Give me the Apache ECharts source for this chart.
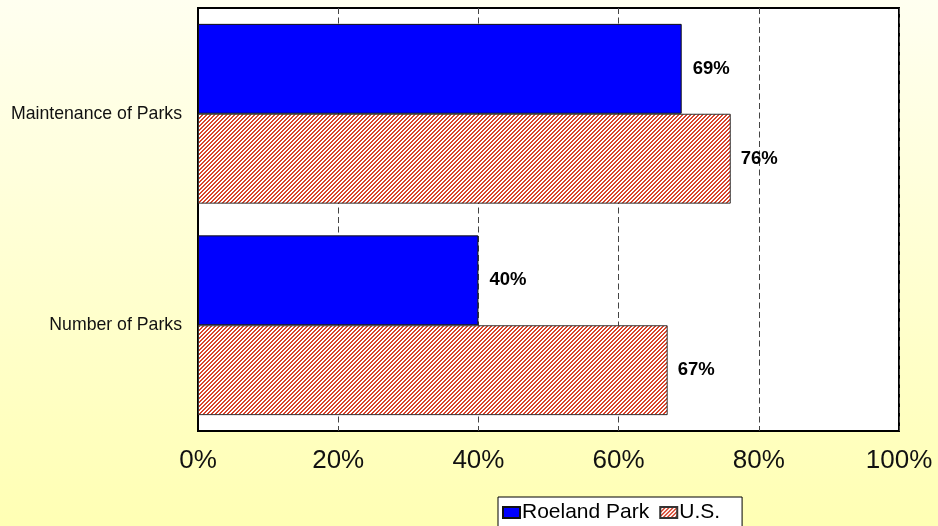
<!DOCTYPE html>
<html>
<head>
<meta charset="utf-8">
<script src="https://cdn.jsdelivr.net/npm/echarts@6/dist/echarts.min.js"></script>
<style>
html,body{margin:0;padding:0;}
#c{width:938px;height:526px;}
</style>
</head>
<body>
<div id="c"></div>
<script>
const categories = ['Maintenance of Parks', 'Number of Parks'];
const roelandPark = [69, 40];
const us = [76, 67];
const seriesNames = ['Roeland Park', 'U.S.'];
const xTicks = [0, 20, 40, 60, 80, 100];

function hatch() {
  const n = 4;
  const cv = document.createElement('canvas');
  cv.width = n; cv.height = n;
  const ctx = cv.getContext('2d');
  ctx.fillStyle = '#ffffff';
  ctx.fillRect(0, 0, n, n);
  ctx.fillStyle = '#d8442c';
  for (let x = 0; x < n; x++) {
    for (let y = 0; y < n; y++) {
      const k = (x + y) % 4;
      if (k === 0 || k === 1) ctx.fillRect(x, y, 1, 1);
    }
  }
  return cv;
}

const chart = echarts.init(document.getElementById('c'), null, {renderer: 'canvas'});
const pattern = {image: hatch(), repeat: 'repeat'};
const FONT = 'Liberation Sans, Arial, sans-serif';

chart.setOption({
  animation: false,
  backgroundColor: {
    type: 'linear', x: 0, y: 0, x2: 0, y2: 1,
    colorStops: [{offset: 0, color: '#fffff0'}, {offset: 1, color: '#ffffb4'}]
  },
  grid: {
    left: 198, right: 39, top: 8, bottom: 95,
    show: true, backgroundColor: '#ffffff', borderColor: '#000', borderWidth: 2
  },
  legend: {
    left: 498, top: 497,
    data: seriesNames,
    backgroundColor: '#ffffff',
    borderColor: '#000', borderWidth: 1, borderRadius: 0,
    padding: [5, 22, 8, 4],
    itemGap: 10, itemWidth: 17, itemHeight: 11,
    icon: 'rect',
    textStyle: {fontFamily: FONT, fontSize: 21, color: '#000', padding: [0, 0, 0, -3]}
  },
  xAxis: {
    type: 'value', min: xTicks[0], max: xTicks[xTicks.length - 1], interval: 20,
    axisLine: {show: false},
    axisTick: {show: false},
    axisLabel: {
      formatter: '{value}%', margin: 17,
      fontFamily: FONT, fontSize: 26, color: '#111'
    },
    splitLine: {show: true, lineStyle: {color: '#444', width: 1, type: [6, 3.5]}}
  },
  yAxis: {
    type: 'category', data: categories, inverse: true,
    axisLine: {show: true, lineStyle: {color: '#000', width: 2}},
    axisTick: {show: false},
    axisLabel: {margin: 16, fontFamily: FONT, fontSize: 17.7, color: '#111'}
  },
  series: [
    {
      name: seriesNames[0], type: 'bar', data: roelandPark,
      barCategoryGap: '15%', barGap: '0%',
      itemStyle: {color: '#0000ff', borderColor: '#111', borderWidth: 1},
      label: {
        show: true, position: 'right', distance: 11, formatter: '{c}%',
        fontFamily: FONT, fontSize: 18.5, fontWeight: 'bold', color: '#000'
      }
    },
    {
      name: seriesNames[1], type: 'bar', data: us,
      barCategoryGap: '15%', barGap: '0%',
      itemStyle: {color: pattern, borderColor: '#333', borderWidth: 1},
      label: {
        show: true, position: 'right', distance: 10, formatter: '{c}%',
        fontFamily: FONT, fontSize: 18.5, fontWeight: 'bold', color: '#000'
      }
    }
  ]
});
</script>
</body>
</html>
